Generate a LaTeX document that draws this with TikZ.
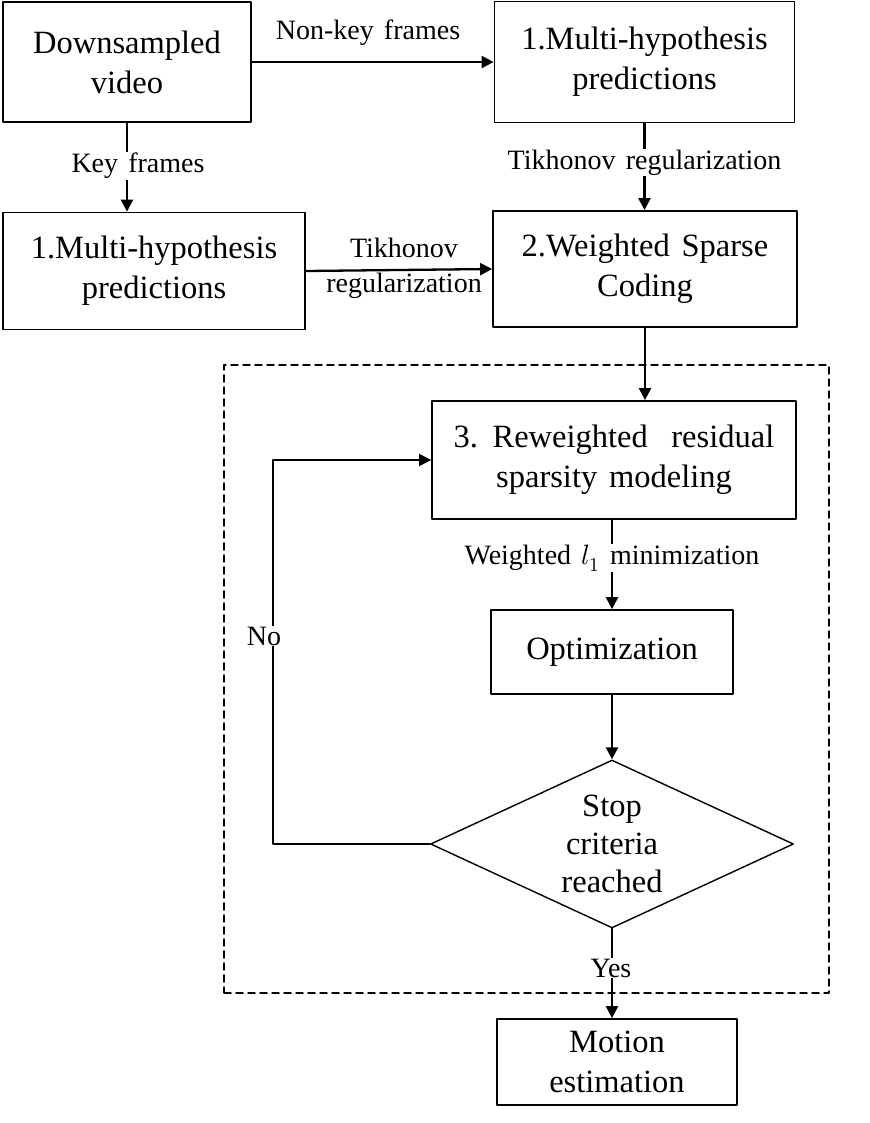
\documentclass[tikz,border=0pt]{standalone}
\usepackage{fontspec}
\usepackage{unicode-math}
\setmainfont[WordSpace=1.45]{Liberation Serif}
\setmathfont{Latin Modern Math}
\usetikzlibrary{shapes.geometric,arrows.meta}
\begin{document}
\begin{tikzpicture}[x=1pt, y=-1pt, line cap=round, line join=round, >={Triangle[length=12pt,width=12pt]},
	blk/.style={draw, line width=1.8pt, inner sep=0pt, align=center, font=\fontsize{32.5}{40}\selectfont},
	lbl/.style={inner sep=1pt, align=center, font=\fontsize{28}{35}\selectfont},
	arr/.style={line width=2.3pt, ->}]
	\useasboundingbox (0,0) rectangle (869,1123);
	% dashed frame of the iteration
	\node[draw, line width=1.4pt, dash pattern=on 7pt off 5pt, minimum width=605pt, minimum height=628pt, inner sep=0pt] (loop) at (526.5,679) {};
	% boxes
	\node[blk, minimum width=248pt, minimum height=120pt] (video) at (127,62) {Downsampled\\video};
	\node[blk, minimum width=300pt, minimum height=121pt] (mhnon) at (644.5,62) {1.Multi-hypothesis\\predictions};
	\node[blk, minimum width=302pt, minimum height=117pt] (mhkey) at (154,271) {1.Multi-hypothesis\\predictions};
	\node[blk, minimum width=304pt, minimum height=116pt] (wsc) at (645,269) {2.Weighted Sparse\\Coding};
	\node[blk, minimum width=364pt, minimum height=118pt] (rrs) at (614,460) {3. Reweighted \ residual\\sparsity modeling};
	\node[blk, minimum width=242pt, minimum height=84pt] (opt) at (612,652) {Optimization};
	\node[draw, line width=1.4pt, diamond, shape aspect=2.16, minimum width=363pt, minimum height=168pt, inner sep=0pt] (stop) at (612,844) {};
	\node[blk, draw=none, font=\fontsize{32.5}{38}\selectfont] (stoptxt) at (stop) {Stop\\criteria\\reached};
	\node[blk, minimum width=240pt, minimum height=86pt] (motion) at (617,1062) {Motion\\estimation};
	% connectors
	\draw[arr] (video) -- (mhnon);
	\node[lbl] (nonkey) at (368,33) {Non-key frames};
	\draw[arr] (video.south) -- (video.south |- mhkey.north);
	\node[lbl, fill=white] (key) at (138,166) {Key frames};
	\draw[arr] (mhkey.east) -- (wsc.west);
	\node[lbl] (tik1) at (404,268) {Tikhonov\\regularization};
	\draw[arr] (mhnon.south) -- (mhnon.south |- wsc.north) node[lbl, fill=white, pos=0.45] (tik2) {Tikhonov regularization};
	\draw[arr] (wsc.south) -- (wsc.south |- rrs.north);
	\draw[arr] (opt.north |- rrs.south) -- (opt.north) node[lbl, fill=white, pos=0.43] (wl1) {Weighted $l_1$ minimization};
	\draw[arr] (opt) -- (stop);
	\draw[arr] (stop.south) -- (stop.south |- motion.north);
	\node[lbl, fill=white] (yes) at (611,968) {Yes};
	\draw[arr] (stop.west) -- ++(-157,0) coordinate (back) |- (rrs.west);
	\node[lbl, fill=white] (no) at (264,636) {No};
\end{tikzpicture}
\end{document}
